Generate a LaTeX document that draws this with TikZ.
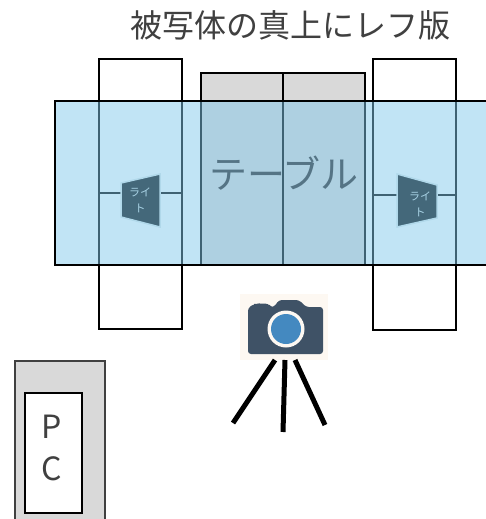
\documentclass[tikz,border=0pt]{standalone}
\usepackage{fontspec}
\newfontfamily\cjk{Noto Sans CJK JP}
\definecolor{sheetblue}{HTML}{82C8EB}
\definecolor{lightbody}{HTML}{44687A}
\definecolor{lightedge}{HTML}{B0D8EA}
\definecolor{lighttext}{HTML}{A9D3E6}
\definecolor{panelgray}{HTML}{D9D9D9}
\definecolor{cambg}{HTML}{FDF8F2}
\definecolor{cambody}{HTML}{3F5266}
\definecolor{lensblue}{HTML}{4489C0}
\definecolor{tabletext}{HTML}{557485}
\tikzset{
  outline/.style={draw=black,line width=1.5pt},
  lamp/.style={fill=lightbody,draw=lightedge,line width=1.5pt,line join=miter},
  lamptext/.style={text=lighttext,font=\cjk\fontsize{11}{16}\selectfont,align=center,inner sep=0pt},
  leg/.style={line width=5pt,draw=black},
  label/.style={font=\cjk\fontsize{#1}{#1}\selectfont,text=black!75,inner sep=0pt}
}
\begin{document}
\begin{tikzpicture}[x=1pt,y=-1pt]
\useasboundingbox (0,0) rectangle (486,519);
\fill[white] (0,0) rectangle (486,519);
% stands and table
\draw[outline] (99,59) rectangle (182,329);
\draw[outline] (99,193) -- (182,193);
\draw[outline] (373,59) rectangle (456,330);
\draw[outline] (373,195) -- (456,195);
\draw[outline,fill=panelgray] (201,73) rectangle (283,265);
\draw[outline,fill=panelgray] (283,73) rectangle (365,265);
% blue sheet
\fill[sheetblue,fill opacity=.49] (55,101) rectangle (486,265);
\draw[outline] (486,101) -- (55,101) -- (55,265) -- (486,265);
% lights
\draw[lamp] (121,183) -- (160,174) -- (160,227) -- (121,217) -- cycle;
\node[lamptext] (lampL) at (140,200) {ライ\\ト};
\draw[lamp] (397,174) -- (437,185) -- (437,218) -- (397,227) -- cycle;
\node[lamptext] (lampR) at (420,204) {ライ\\ト};
% texts
\node[label=32] (title) at (290.5,25) {被写体の真上にレフ版};
\node[label=38,text=tabletext] (table) at (284,173) {テーブル};
% pc
\draw[outline,draw=black!75,fill=panelgray] (105,525) -- (105,361) -- (15,361) -- (15,525);
\draw[outline,fill=white] (25,393) rectangle (82,513);
\node[label=32] (pcP) at (52,427) {P};
\node[label=32] (pcC) at (52,469) {C};
% camera
\fill[cambg] (240,294) rectangle (328,360);
\fill[cambody,rounded corners=3pt] (248,354) -- (248,308) -- (254,304) -- (257,304) -- (259,303.5) -- (268,303.5) -- (271,307) -- (274,307) -- (279,300) -- (299,300) -- (306,307) -- (323,307) -- (323,354) -- cycle;
\fill[cambg] (286,329) circle (18.5);
\fill[lensblue] (286,329) circle (15);
\coordinate (top1) at (275,360);
\coordinate (top2) at (285,360);
\coordinate (top3) at (295,360);
\coordinate (foot1) at (233,423);
\coordinate (foot2) at (283,432);
\coordinate (foot3) at (325,425);
\draw[leg] (top1) -- (foot1);
\draw[leg] (top2) -- (foot2);
\draw[leg] (top3) -- (foot3);
\end{tikzpicture}
\end{document}
